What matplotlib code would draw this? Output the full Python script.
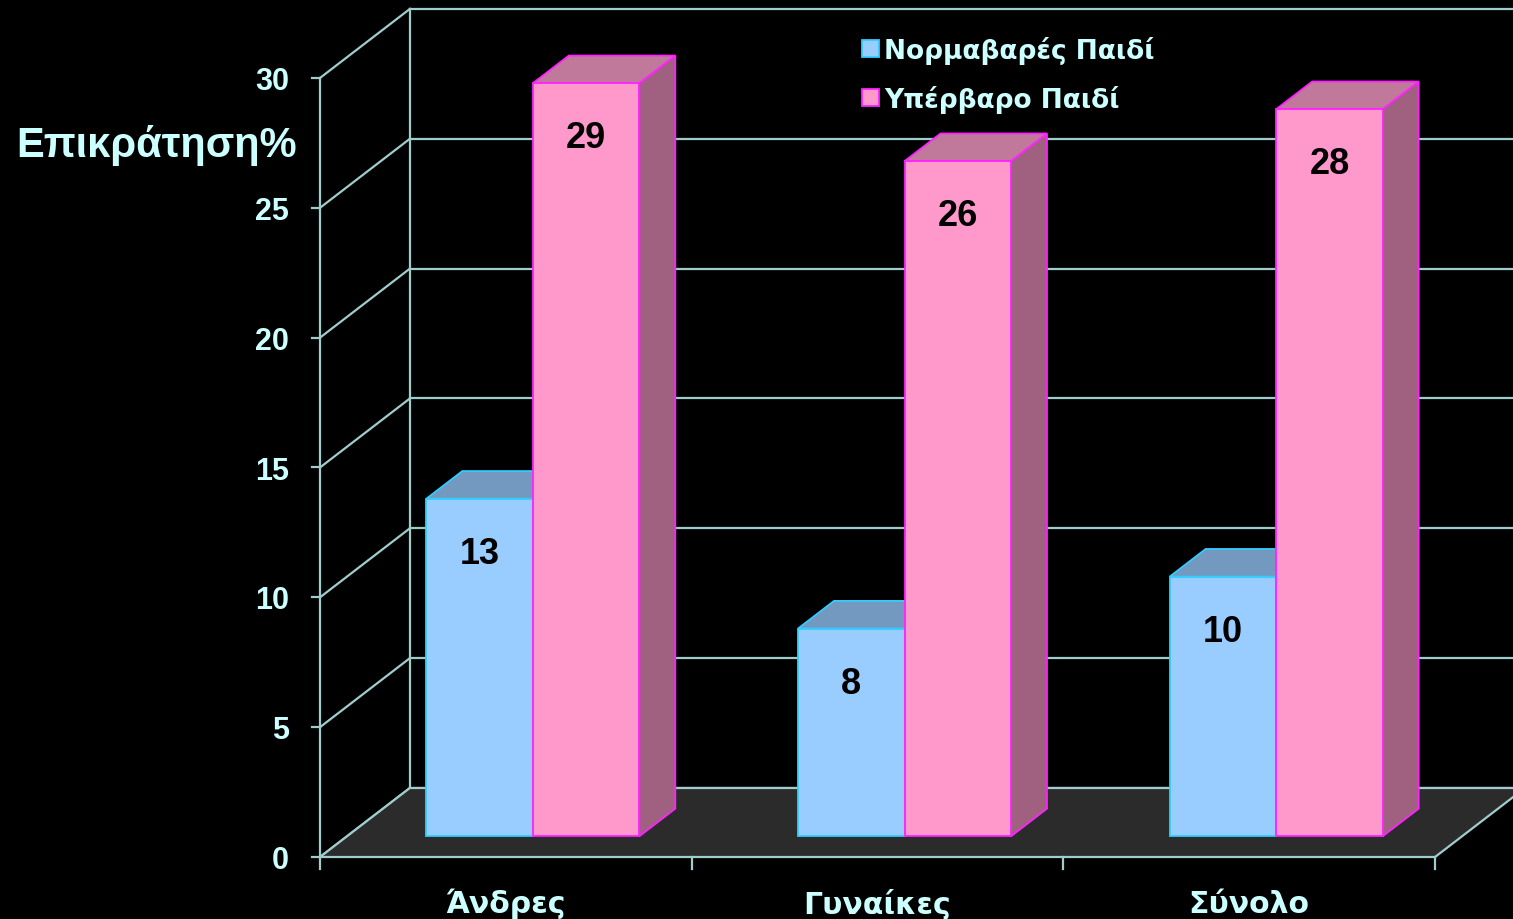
import matplotlib
matplotlib.use("Agg")
import matplotlib.pyplot as plt
from matplotlib.patches import Polygon, Patch

categories = ['Άνδρες', 'Γυναίκες', 'Σύνολο']
series_names = ['Νορμαβαρές Παιδί', 'Υπέρβαρο Παιδί']
normal = [13, 8, 10]
overweight = [29, 26, 28]
yticks = [0, 5, 10, 15, 20, 25, 30]
ylabel = 'Επικράτηση%'

# face colours per series: front, top, side, edge
front_cols = ['#99ccff', '#ff99cc']
top_cols = ['#7399c0', '#c0789b']
side_cols = ['#5c7a9a', '#a0607f']
edge_cols = ['#33ccff', '#ff22ff']

grid_col = '#a0cccc'
text_col = '#ccffff'

# oblique depth offset of the whole box (in x units / value units)
DX, DY = 0.242, 2.66
bar_w = 0.2865
z0, z1 = 0.30, 0.70

fig = plt.figure(figsize=(15.13, 9.2), dpi=100, facecolor='black')
ax = fig.add_axes([0, 0, 1, 1])
ax.set_facecolor('black')
ax.set_xlim(-0.861, 3.2097)
ax.set_ylim(-2.387, 33.04)
ax.axis('off')


def proj(x, v, z):
    return (x + z * DX, v + z * DY)


ymax = yticks[-1]
ncat = len(categories)

# back wall and left wall grid
for v in yticks:
    ax.plot([DX, ncat + DX], [v + DY, v + DY], color=grid_col, lw=1.6, zorder=1)
    ax.plot([0, DX], [v, v + DY], color=grid_col, lw=1.6, zorder=1)
    ax.plot([-0.022, 0], [v, v], color=grid_col, lw=1.6, zorder=1)
    ax.text(-0.083, v - 0.12, str(v), ha='right', va='center', color=text_col,
            fontsize=22, fontweight='bold', family='Liberation Sans')
ax.plot([DX, DX], [DY, ymax + DY], color=grid_col, lw=1.6, zorder=1)
ax.plot([0, 0], [0, ymax], color=grid_col, lw=1.6, zorder=1)

# floor
ax.add_patch(Polygon([proj(0, 0, 0), proj(ncat, 0, 0), proj(ncat, 0, 1), proj(0, 0, 1)],
                     closed=True, facecolor='#2b2b2b', edgecolor='none', zorder=2))
ax.plot([0, ncat], [0, 0], color=grid_col, lw=1.6, zorder=2.5)
ax.plot([0, DX], [0, DY], color=grid_col, lw=1.6, zorder=2.5)
ax.plot([ncat, ncat + DX], [0, DY], color=grid_col, lw=1.6, zorder=2.5)
ax.plot([DX, ncat + DX], [DY, DY], color=grid_col, lw=1.6, zorder=2.5)
for i in range(ncat + 1):
    ax.plot([i, i], [0, -0.46], color=grid_col, lw=1.6, zorder=2.5)

# bars
values = [normal, overweight]
margin = (1 - 2 * bar_w) / 2
zo = 3
for i in range(ncat):
    for s in range(2):
        h = values[s][i]
        xa = i + margin + s * bar_w
        xb = xa + bar_w
        front = [proj(xa, 0, z0), proj(xb, 0, z0), proj(xb, h, z0), proj(xa, h, z0)]
        top = [proj(xa, h, z0), proj(xb, h, z0), proj(xb, h, z1), proj(xa, h, z1)]
        side = [proj(xb, 0, z0), proj(xb, 0, z1), proj(xb, h, z1), proj(xb, h, z0)]
        for pts, fc in [(side, side_cols[s]), (top, top_cols[s]), (front, front_cols[s])]:
            ax.add_patch(Polygon(pts, closed=True, facecolor=fc, edgecolor=edge_cols[s],
                                 lw=1.3, joinstyle='miter', zorder=zo))
        zo += 0.1
        cx, cy = proj((xa + xb) / 2, h - 2.1, z0)
        ax.text(cx, cy, str(h), ha='center', va='center', color='black',
                fontsize=26, fontweight='bold', family='Liberation Sans', zorder=10)

# category labels
for i, c in enumerate(categories):
    ax.text(i + 0.5, -1.78, c, ha='center', va='center', color=text_col,
            fontsize=21.5, fontweight='bold', family='DejaVu Sans')

ax.text(-0.4385, 27.45, ylabel, ha='center', va='center', color=text_col,
        fontsize=30, fontweight='bold', family='Liberation Sans')

handles = [Patch(facecolor=front_cols[s], edgecolor=edge_cols[s], lw=1.3) for s in range(2)]
leg = fig.legend(handles, series_names, loc='upper left', bbox_to_anchor=(849 / 1513, 1 - 24 / 920),
                 frameon=False, borderpad=0, handlelength=0.62, handleheight=0.62,
                 handletextpad=0.2, labelspacing=0.78, labelcolor=text_col,
                 prop={'family': 'DejaVu Sans', 'weight': 'bold', 'size': 19})

fig.savefig('out.png', dpi=100, facecolor='black')
